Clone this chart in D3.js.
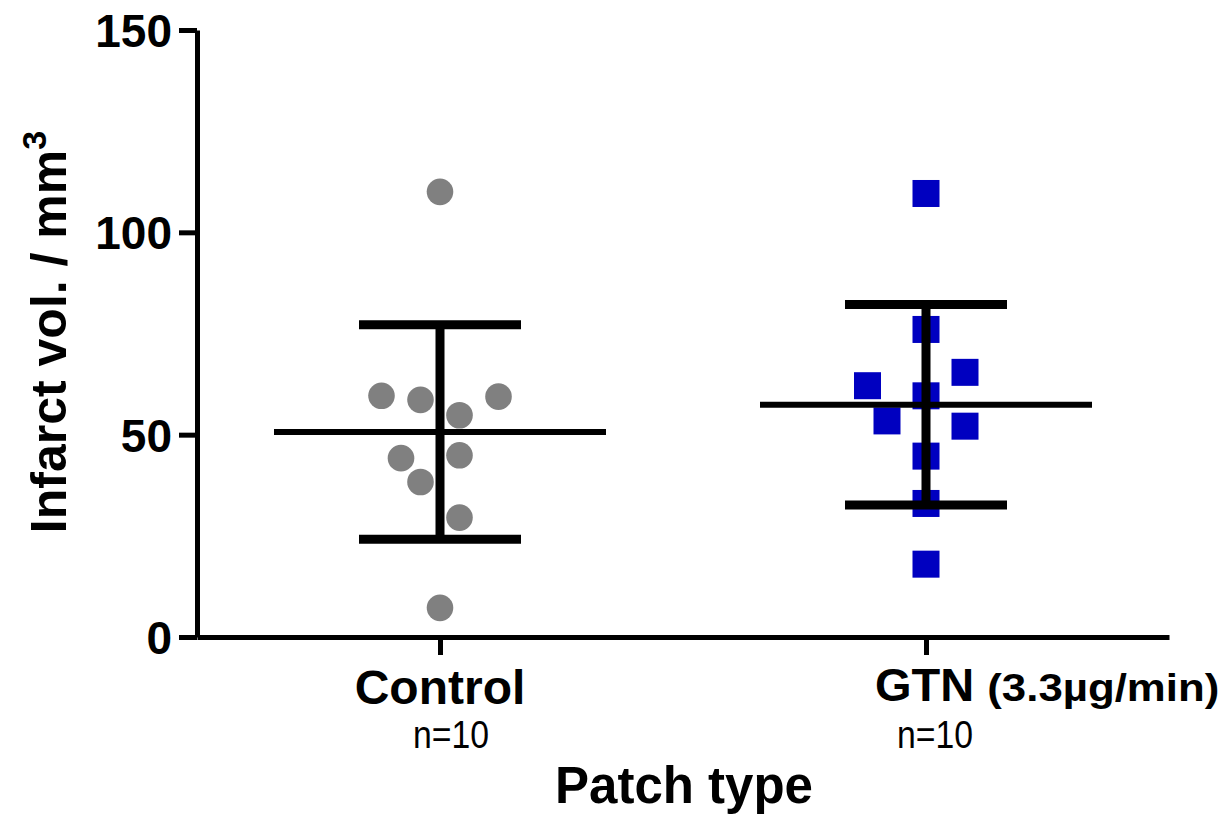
<!DOCTYPE html>
<html>
<head>
<meta charset="utf-8">
<script src="https://cdn.jsdelivr.net/npm/d3@7"></script>
<style>
  body { margin: 0; background: #fff; }
  text { font-family: "Liberation Sans", Arial, sans-serif; fill: #000; }
</style>
</head>
<body>
<script>
// Infarct volume (mm3) per animal
const groups = ["Control", "GTN"];
const controlValues = [110, 59.6, 58.6, 54.8, 59.4, 44.2, 44.9, 38.3, 29.5, 7.2];
const gtnValues = [109.6, 76, 65.4, 62.1, 59.6, 53.4, 52.1, 44.7, 33, 18];
// scatter column slot of each point (GraphPad style spread)
const controlSlots = [0, -3, -1, 1, 3, -2, 1, -1, 1, 0];
const gtnSlots = [0, 0, 2, -3, 0, -2, 2, 0, 0, 0];
const yTicks = [0, 50, 100, 150];
const nLabels = ["n=10", "n=10"];

const w = 1218;
const h = 815;
const slotStep = 19.5;

const svg = d3.select("body").append("svg").attr("width", w).attr("height", h);

// Scales
const x = d3.scaleLinear().domain([-0.5, 1.5]).range([197, 1169]);
const y = d3.scaleLinear().domain([0, 150]).range([637, 30]);

const series = [
	{ name: groups[0], values: controlValues, slots: controlSlots },
	{ name: groups[1], values: gtnValues, slots: gtnSlots },
];

// Points
const ctrl = series[0];
svg
	.append("g")
	.selectAll("circle")
	.data(ctrl.values)
	.enter()
	.append("circle")
	.attr("cx", (d, i) => x(0) + ctrl.slots[i] * slotStep)
	.attr("cy", (d) => y(d))
	.attr("r", 13.3)
	.attr("fill", "#808080");

const gtn = series[1];
const sq = 27;
svg
	.append("g")
	.selectAll("rect")
	.data(gtn.values)
	.enter()
	.append("rect")
	.attr("x", (d, i) => x(1) + gtn.slots[i] * slotStep - sq / 2)
	.attr("y", (d) => y(d) - sq / 2)
	.attr("width", sq)
	.attr("height", sq)
	.attr("fill", "#0000C0");

// Mean and SD bars
series.forEach((s, i) => {
	const m = d3.mean(s.values);
	const sd = d3.deviation(s.values);
	const cx = x(i);
	const g = svg.append("g").attr("stroke", "#000");
	g.append("line")
		.attr("x1", cx).attr("x2", cx)
		.attr("y1", y(m + sd)).attr("y2", y(m - sd))
		.attr("stroke-width", 9);
	[m + sd, m - sd].forEach((v) => {
		g.append("line")
			.attr("x1", cx - 81).attr("x2", cx + 81)
			.attr("y1", y(v)).attr("y2", y(v))
			.attr("stroke-width", 9);
	});
	g.append("line")
		.attr("x1", cx - 166).attr("x2", cx + 166)
		.attr("y1", y(m)).attr("y2", y(m))
		.attr("stroke-width", 6);
});

// Y axis
const yAxis = d3.axisLeft(y).tickValues(yTicks).tickSize(18).tickSizeOuter(0).tickPadding(7);
const yg = svg.append("g").attr("transform", `translate(${x(-0.5)},0)`).call(yAxis);
yg.select(".domain").attr("stroke", "#000").attr("stroke-width", 5);
yg.selectAll(".tick line").attr("stroke", "#000").attr("stroke-width", 5);
yg.selectAll(".tick text")
	.attr("dy", "0.36em")
	.style("font-size", "46px")
	.style("font-weight", "bold")
	.attr("fill", "#000");

// X axis
const xAxis = d3.axisBottom(x).tickValues([0, 1]).tickSize(18).tickSizeOuter(0).tickFormat("");
const xg = svg.append("g").attr("transform", `translate(0,${y(0)})`).call(xAxis);
xg.select(".domain").attr("stroke", "#000").attr("stroke-width", 5);
xg.selectAll(".tick line").attr("stroke", "#000").attr("stroke-width", 5);

// Category labels
svg.append("text")
	.attr("x", x(0))
	.attr("y", 704)
	.attr("text-anchor", "middle")
	.style("font-size", "48px")
	.style("font-weight", "bold")
	.text("Control");

const gl = svg.append("text")
	.attr("x", x(1) - 51)
	.attr("y", 701)
	.style("font-weight", "bold");
gl.append("tspan").style("font-size", "47px").text("GTN ");
gl.append("tspan")
	.style("font-size", "39px")
	.attr("textLength", 232)
	.attr("lengthAdjust", "spacingAndGlyphs")
	.text("(3.3µg/min)");

[451, 935].forEach((cx, i) => {
	svg.append("text")
		.attr("x", cx)
		.attr("y", 748)
		.attr("text-anchor", "middle")
		.attr("textLength", 76)
		.attr("lengthAdjust", "spacingAndGlyphs")
		.style("font-size", "39px")
		.text(nLabels[i]);
});

// Axis titles
svg.append("text")
	.attr("x", 684)
	.attr("y", 803)
	.attr("text-anchor", "middle")
	.style("font-size", "51px")
	.style("font-weight", "bold")
	.text("Patch type");

const yt = svg.append("text")
	.attr("transform", "translate(66,332) rotate(-90)")
	.attr("text-anchor", "middle")
	.style("font-size", "50px")
	.style("font-weight", "bold");
yt.append("tspan").text("Infarct vol. / mm");
yt.append("tspan").attr("dy", "-0.6em").style("font-size", "34px").text("3");
</script>
</body>
</html>
